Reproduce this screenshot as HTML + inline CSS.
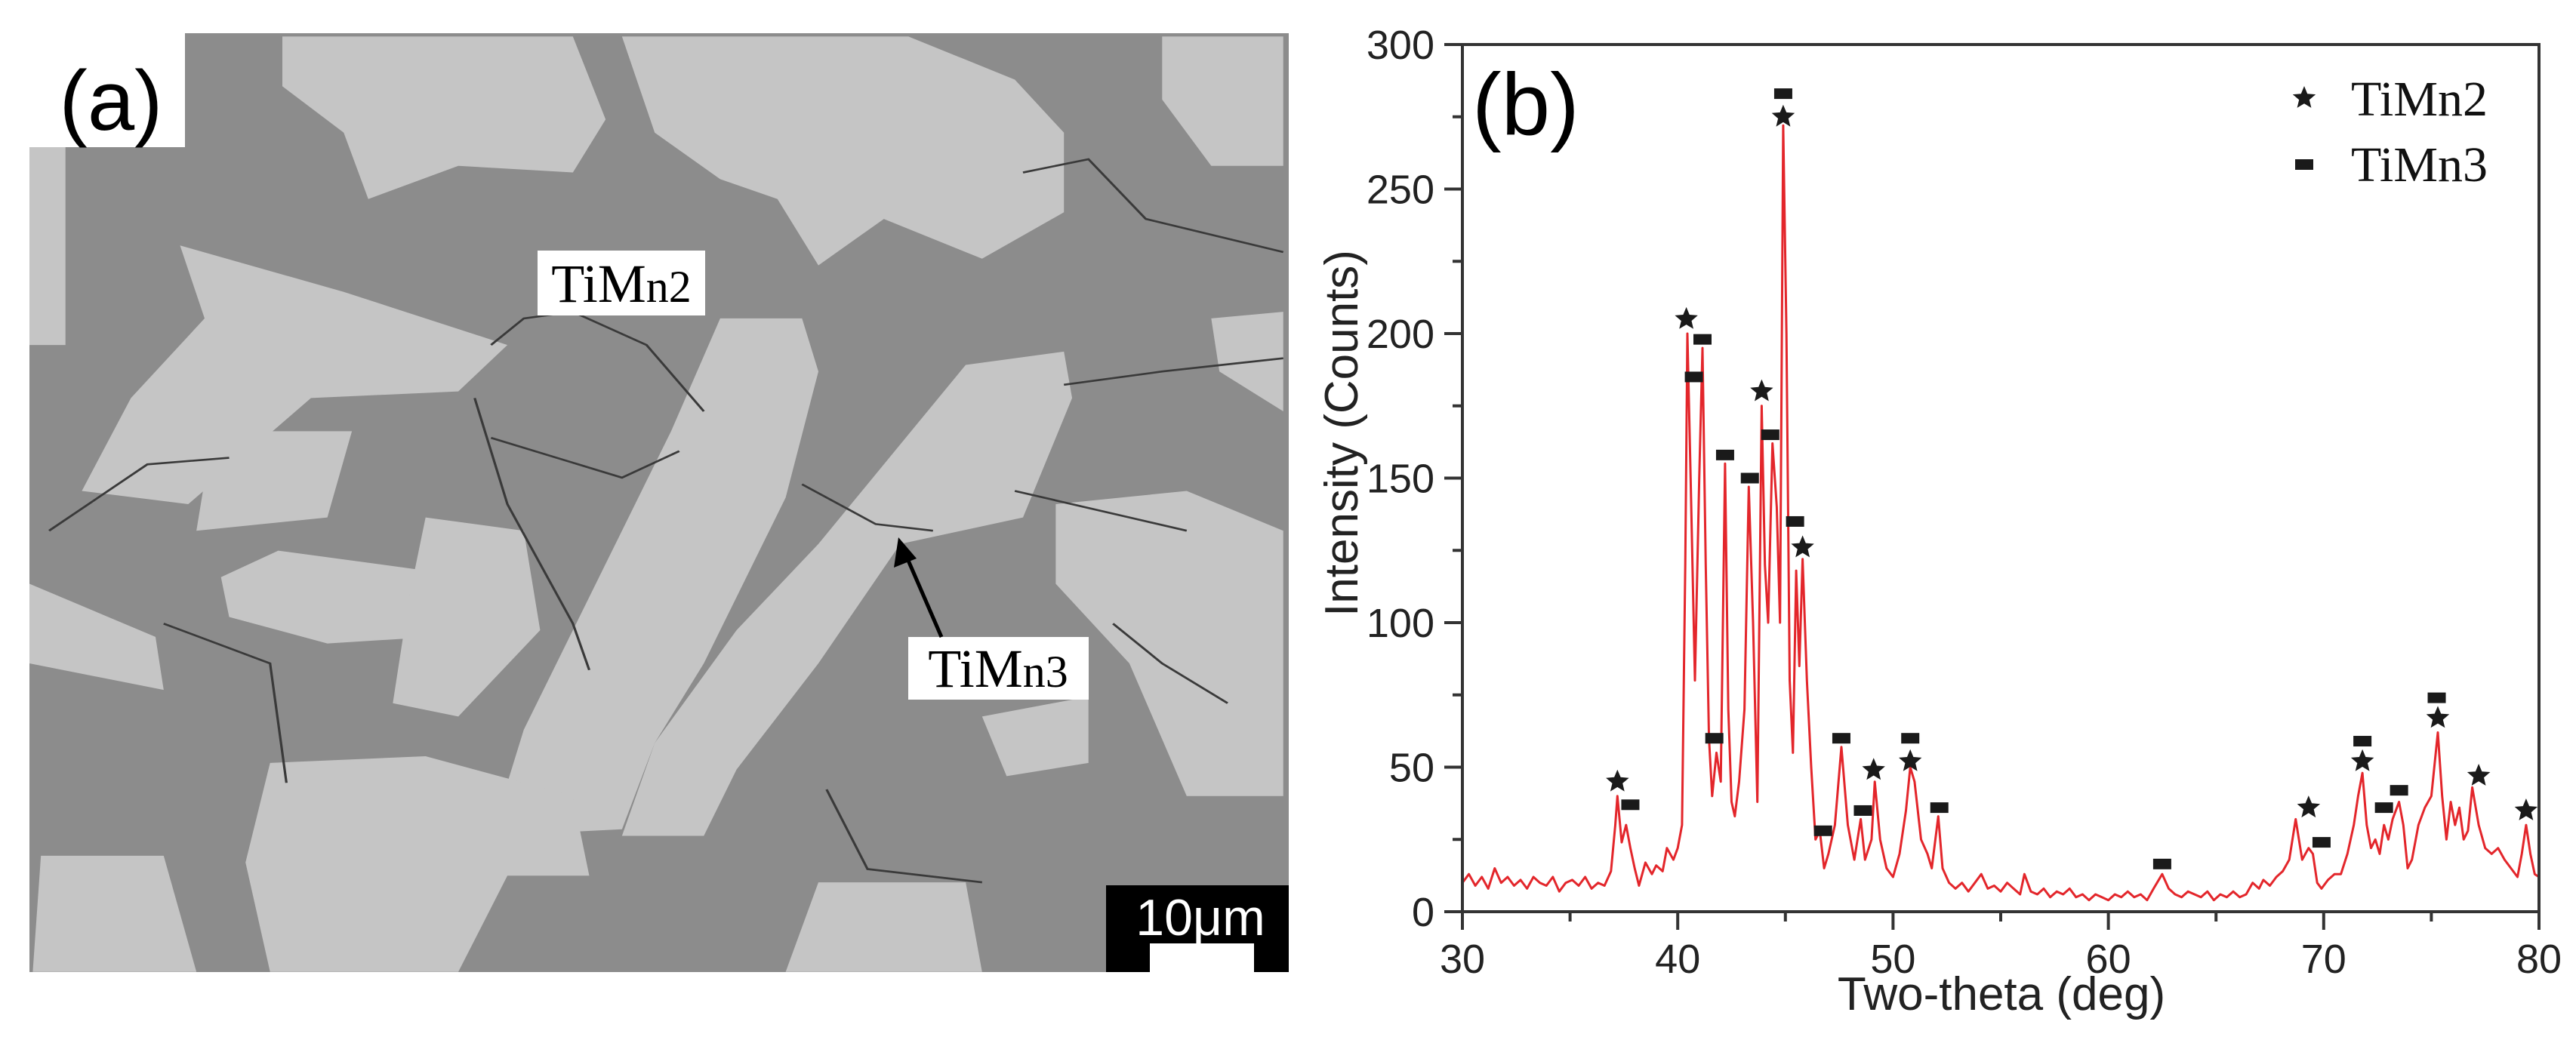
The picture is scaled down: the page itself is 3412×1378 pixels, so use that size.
<!DOCTYPE html>
<html><head><meta charset="utf-8"><style>
html,body{margin:0;padding:0;background:#fff}
svg{display:block}
</style></head><body>
<svg id="fig" width="3412" height="1378" viewBox="0 0 3412 1378" xmlns="http://www.w3.org/2000/svg">
<defs><clipPath id="photoclip"><rect x="39" y="44" width="1668" height="1244"/></clipPath></defs>
<g clip-path="url(#photoclip)">
  <rect x="39" y="44" width="1668" height="1244" fill="#8c8c8c"/>
  <g transform="scale(1.084,0.879)" fill="#c5c5c5">
    <polygon points="345,55 700,55 740,180 700,260 560,250 450,300 420,200 345,130"/>
    <polygon points="760,55 1110,55 1240,120 1300,200 1300,320 1200,390 1080,330 1000,400 950,300 880,270 800,200"/>
    <polygon points="1420,55 1568,55 1568,250 1480,250 1420,150"/>
    <polygon points="220,370 420,440 620,520 560,590 380,600 230,760 100,740 160,600 250,480"/>
    <polygon points="880,480 980,480 1000,560 960,750 900,900 860,1000 800,1120 760,1250 600,1260 640,1100 700,950 760,800 820,650"/>
    <polygon points="1180,550 1300,530 1310,600 1250,780 1100,820 1000,1000 900,1160 860,1260 760,1260 800,1120 900,950 1000,820 1080,700"/>
    <polygon points="1290,760 1450,740 1568,800 1568,1200 1450,1200 1380,1000 1290,880"/>
    <polygon points="1480,480 1568,470 1568,620 1490,560"/>
    <polygon points="260,650 430,650 400,780 240,800"/>
    <polygon points="270,870 340,830 520,860 530,960 400,970 280,930"/>
    <polygon points="36,880 190,960 200,1040 36,1000"/>
    <polygon points="36,220 80,220 80,520 36,520"/>
    <polygon points="50,1290 200,1290 240,1465 40,1465"/>
    <polygon points="330,1150 520,1140 700,1200 720,1320 620,1320 560,1465 330,1465 300,1300"/>
    <polygon points="1000,1330 1180,1330 1200,1465 960,1465"/>
    <polygon points="520,780 640,800 660,950 560,1080 480,1060 500,900"/>
    <polygon points="1200,1080 1330,1050 1330,1150 1230,1170"/>
  </g>
  <g transform="scale(1.084,0.879)" fill="none" stroke="#3a3a3a" stroke-width="3">
    <polyline points="600,520 640,480 700,470 790,520 860,620"/>
    <polyline points="580,600 620,760 700,940 720,1010"/>
    <polyline points="600,660 760,720 830,680"/>
    <polyline points="1300,580 1420,560 1568,540"/>
    <polyline points="1240,740 1380,780 1450,800"/>
    <polyline points="980,730 1070,790 1140,800"/>
    <polyline points="60,800 180,700 280,690"/>
    <polyline points="1010,1190 1060,1310 1200,1330"/>
    <polyline points="1250,260 1330,240 1400,330 1568,380"/>
    <polyline points="200,940 330,1000 350,1180"/>
    <polyline points="1360,940 1420,1000 1500,1060"/>
  </g>
</g>
<rect x="39" y="44" width="206" height="151" fill="#fff"/>
<text x="147" y="172" font-family="Liberation Sans, sans-serif" font-size="112" text-anchor="middle" fill="#000">(a)</text>
<rect x="712" y="332" width="222" height="86" fill="#fff"/>
<text x="823" y="400" font-family="Liberation Serif, serif" font-size="72" text-anchor="middle" fill="#000">TiM<tspan font-size="60">n2</tspan></text>
<rect x="1203" y="844" width="239" height="83" fill="#fff"/>
<text x="1322" y="910" font-family="Liberation Serif, serif" font-size="72" text-anchor="middle" fill="#000">TiM<tspan font-size="60">n3</tspan></text>
<g>
  <line x1="1247" y1="844" x2="1201" y2="738" stroke="#000" stroke-width="5"/>
  <polygon points="1190,712 1184,752 1214,740" fill="#000"/>
</g>
<g>
  <rect x="1465" y="1173" width="242" height="115" fill="#000"/>
  <rect x="1523" y="1250" width="138" height="38" fill="#fff"/>
  <text x="1590" y="1239" font-family="Liberation Sans, sans-serif" font-size="68" text-anchor="middle" fill="#fff">10μm</text>
</g>
<g id="chart"></g>
</svg>
<script>
const xs=[30,30.3,30.6,30.9,31.2,31.5,31.8,32.1,32.4,32.7,
33,33.3,33.6,33.9,34.2,34.5,34.8,35.1,35.4,35.7,
36,36.3,36.6,36.9,37.1,37.2,37.4,37.6,37.8,38,
38.2,38.5,38.8,39,39.3,39.5,39.8,40,40.2,40.35,
40.45,40.6,40.8,41,41.15,41.3,41.45,41.6,41.8,42,
42.2,42.35,42.5,42.65,42.85,43.1,43.3,43.5,43.7,43.9,
44.05,44.2,44.4,44.6,44.75,44.9,45.05,45.2,45.35,45.5,
45.65,45.8,46,46.2,46.4,46.6,46.8,47,47.3,47.6,
47.9,48.2,48.5,48.7,49,49.15,49.4,49.7,50,50.3,
50.6,50.8,51,51.3,51.6,51.8,52.1,52.3,52.6,52.9,
53.2,53.5,53.8,54.1,54.4,54.7,55,55.3,55.6,55.9,
56.1,56.4,56.7,57,57.3,57.6,57.9,58.2,58.5,58.8,
59.1,59.4,59.7,60,60.3,60.6,60.9,61.2,61.5,61.8,
62.1,62.5,62.8,63.1,63.4,63.7,64,64.3,64.6,64.9,
65.2,65.5,65.8,66.1,66.4,66.7,67,67.2,67.5,67.8,
68.1,68.4,68.7,69,69.3,69.5,69.7,69.9,70.2,70.5,
70.8,71.1,71.4,71.6,71.8,72,72.2,72.4,72.6,72.8,
73,73.2,73.5,73.7,73.9,74.1,74.4,74.7,75,75.3,
75.5,75.7,75.9,76.1,76.3,76.5,76.7,76.9,77.2,77.5,
77.8,78.1,78.4,78.7,79,79.2,79.4,79.6,79.8,80];
const ys=[10,13,9,12,8,15,10,12,9,11,
8,12,10,9,12,7,10,11,9,12,
8,10,9,14,30,40,24,30,22,15,
9,17,13,16,14,22,18,22,30,120,
200,150,80,150,195,120,60,40,55,45,
155,70,38,33,45,70,147,100,38,175,
120,100,162,140,100,272,200,80,55,118,
85,122,80,50,25,28,15,20,30,57,
30,18,32,18,25,45,25,15,12,20,
35,50,45,25,20,15,33,15,10,8,
10,7,10,13,8,9,7,10,8,6,
13,7,6,8,5,7,6,8,5,6,
4,6,5,4,6,5,7,5,6,4,
8,13,8,6,5,7,6,5,7,4,
6,5,7,5,6,10,8,11,9,12,
14,18,32,18,22,20,10,8,11,13,
13,20,30,40,48,30,22,25,20,30,
25,32,38,30,15,18,30,36,40,62,
40,25,38,30,36,25,28,43,30,22,
20,22,18,15,12,20,30,20,13,12];
const starX=[37.2,40.4,43.9,44.9,45.8,49.1,50.8,69.3,71.8,75.3,77.2,79.4];
const starY=[45,205,180,275,126,49,52,36,52,67,47,35];
const sqX=[37.8,40.75,41.15,41.7,42.2,43.35,44.3,44.9,45.45,46.75,47.6,48.6,50.8,52.15,62.5,69.9,71.8,72.8,73.5,75.25];
const sqY=[37,185,198,60,158,150,165,283,135,28,60,35,60,36,16.5,24,59,36,42,74];
const xTicks=[30,40,50,60,70,80];
const yTicks=[0,50,100,150,200,250,300];
const NS='http://www.w3.org/2000/svg';
const L=1937,R=3363,T=59,B=1208;
function sx(v){return L+(v-30)/50*(R-L);}
function sy(v){return B-v/300*(B-T);}
const g=document.getElementById('chart');
function mk(tag,attrs,parent){const e=document.createElementNS(NS,tag);for(const k in attrs)e.setAttribute(k,attrs[k]);(parent||g).appendChild(e);return e;}
let d='';const n=Math.min(xs.length,ys.length);for(let i=0;i<n;i++){d+=(i?'L':'M')+sx(xs[i]).toFixed(1)+','+sy(ys[i]).toFixed(1);}
const line=mk('path',{d:d,fill:'none',stroke:'#e3262b','stroke-width':3,'stroke-linejoin':'round'});


for(let v=30;v<=80;v+=5){const major=v%10===0;const t=mk('line',{x1:sx(v),x2:sx(v),y1:B,y2:B+(major?24:13),stroke:'#333','stroke-width':4});

}
for(let v=0;v<=300;v+=25){const major=v%50===0;const t=mk('line',{x1:L-(major?24:13),x2:L,y1:sy(v),y2:sy(v),stroke:'#333','stroke-width':4});

}
xTicks.forEach(v=>{const t=mk('text',{x:sx(v),y:1289,'text-anchor':'middle','font-family':'Liberation Sans, sans-serif','font-size':54,fill:'#222'});t.textContent=v;

});
yTicks.forEach(v=>{const t=mk('text',{x:1900,y:sy(v)+19,'text-anchor':'end','font-family':'Liberation Sans, sans-serif','font-size':54,fill:'#222'});t.textContent=v;

});
const fr=mk('rect',{x:L,y:T,width:R-L,height:B-T,fill:'none',stroke:'#333','stroke-width':4});


function starPath(cx,cy,r){let p='';for(let i=0;i<10;i++){const a=-Math.PI/2+i*Math.PI/5;const rr=i%2?r*0.45:r;p+=(i?'L':'M')+(cx+rr*Math.cos(a)).toFixed(1)+','+(cy+rr*Math.sin(a)).toFixed(1);}return p+'Z';}
starX.forEach((v,i)=>{const s=mk('path',{d:starPath(sx(v),sy(starY[i]),16),fill:'#1a1a1a'});

});
sqX.forEach((v,i)=>{const s=mk('rect',{x:sx(v)-12,y:sy(sqY[i])-7,width:24,height:14,fill:'#1a1a1a'});

});
const pb=mk('text',{x:1950,y:178,'font-family':'Liberation Sans, sans-serif','font-size':116,fill:'#000'});pb.textContent='(b)';


const xt=mk('text',{x:2651,y:1338,'text-anchor':'middle','font-family':'Liberation Sans, sans-serif','font-size':62,fill:'#222'});xt.textContent='Two-theta (deg)';


const yt=mk('text',{x:0,y:0,'text-anchor':'middle','font-family':'Liberation Sans, sans-serif','font-size':62,fill:'#222',transform:'translate(1798,574) rotate(-90)'});yt.textContent='Intensity (Counts)';


const lg=mk('g',{});


const ls=mk('path',{d:starPath(3052,130,16),fill:'#1a1a1a'},lg);


const lt1=mk('text',{x:3114,y:153,'font-family':'Liberation Serif, serif','font-size':66,fill:'#111'},lg);lt1.textContent='TiMn2';


const lq=mk('rect',{x:3040,y:211,width:24,height:14,fill:'#1a1a1a'},lg);


const lt2=mk('text',{x:3114,y:240,'font-family':'Liberation Serif, serif','font-size':66,fill:'#111'},lg);lt2.textContent='TiMn3';


</script>
</body></html>
